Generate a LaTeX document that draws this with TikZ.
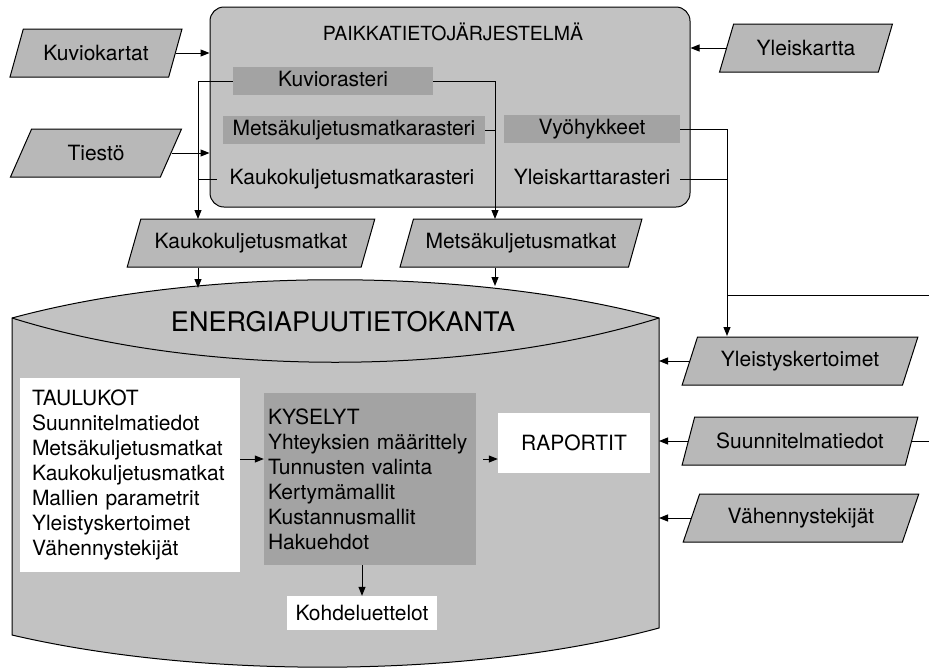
\documentclass[tikz,border=0pt]{standalone}
\usepackage{fontspec}
\setmainfont{TeX Gyre Heros}
\usetikzlibrary{positioning,arrows.meta,calc,shapes.geometric}
\definecolor{boxgray}{gray}{0.76}
\definecolor{bandgray}{gray}{0.64}
\definecolor{paragray}{gray}{0.72}

\begin{document}
\begin{tikzpicture}[x=1pt, y=-1pt,
  txt/.style={font=\fontsize{21}{25}\selectfont},
  para/.style={draw, line width=1pt, fill=paragray, trapezium, trapezium left angle=63, trapezium right angle=117, trapezium stretches=true, minimum height=48pt, inner sep=2pt, txt},
  row/.style={inner sep=4pt, text height=15pt, text depth=5pt, txt},
  band/.style={row, fill=bandgray},
  panel/.style={fill=white, align=left, inner sep=0pt, txt},
  arr/.style={-{Triangle[length=9pt, width=7pt]}, line width=1pt},
  wire/.style={line width=1pt},
]
\useasboundingbox (0,0) rectangle (929,670);
% paikkatietojarjestelma
\node[draw, line width=1pt, fill=boxgray, rounded corners=14pt, minimum width=480pt, minimum height=200pt] (sys) at (450,107) {};
\node[font=\fontsize{19.5}{22}\selectfont] (systit) at (453,32) {PAIKKATIETOJÄRJESTELMÄ};
\node[band, minimum width=200pt] (kr) at (333,81) {Kuviorasteri};
\node[band, minimum width=262pt] (mkr) at (354,130) {Metsäkuljetusmatkarasteri};
\node[row, minimum width=270pt] (kkr) at (352,179) {Kaukokuljetusmatkarasteri};
\node[band, minimum width=176pt] (vy) at (592,129) {Vyöhykkeet};
\node[row, minimum width=176pt] (ykr) at (592,179) {Yleiskarttarasteri};
% lahtotiedot
\node[para, minimum width=172pt] (kuvio) at (96,53) {Kuviokartat};
\node[para, minimum width=172pt] (tiesto) at (96,153) {Tiestö};
\node[para, minimum width=173pt] (yk) at (806,48) {Yleiskartta};
\node[para, minimum width=248pt] (kauko) at (251,243) {Kaukokuljetusmatkat};
\node[para, minimum width=242pt] (metsa) at (521,243) {Metsäkuljetusmatkat};
\node[para, minimum width=236pt] (yleistys) at (800,361) {Yleistyskertoimet};
\node[para, minimum width=236pt] (suunn) at (800,441) {Suunnitelmatiedot};
\node[para, minimum width=236pt] (vahen) at (801,518) {Vähennystekijät};
% tietokanta
\filldraw[wire, fill=boxgray] (12,318) .. controls (200,267) and (470,267) .. (659,318) -- (659,628) .. controls (470,679) and (200,679) .. (12,635) -- cycle;
\draw[wire] (12,318) .. controls (200,377) and (470,377) .. (659,318);
\node[font=\fontsize{27}{32}\selectfont] (dbtit) at (343,322) {ENERGIAPUUTIETOKANTA};
\node[panel, minimum width=220pt, minimum height=194pt, text width=196pt] (taul) at (130,475) {TAULUKOT\\Suunnitelmatiedot\\Metsäkuljetusmatkat\\Kaukokuljetusmatkat\\Mallien parametrit\\Yleistyskertoimet\\Vähennystekijät};
\node[fill=bandgray, align=left, text width=204pt, minimum height=172pt, inner xsep=4pt, txt] (kys) at (370,479) {KYSELYT\\Yhteyksien määrittely\\Tunnusten valinta\\Kertymämallit\\Kustannusmallit\\Hakuehdot};
\node[fill=white, minimum width=152pt, minimum height=60pt, txt] (rap) at (574,443) {RAPORTIT};
\node[fill=white, minimum width=150pt, minimum height=34pt, txt] (kohde) at (362,613) {Kohdeluettelot};
% liitokset
\coordinate (kaukoin) at (198,219);
\coordinate (metsain) at (495,219);
\coordinate (yin) at (727,336);
\coordinate (offa) at (929,295);
\coordinate (dbk) at (198,288);
\coordinate (dbm) at (495,286);
\coordinate (dbe) at (659,318);
\draw[arr] (kuvio.east) -- (kuvio.east -| sys.west);
\draw[arr] (tiesto.east) -- (tiesto.east -| sys.west);
\draw[arr] (yk.west) -- (yk.west -| sys.east);
\draw[arr] (kr.west) -| (kaukoin);
\draw[wire] (kkr.west) -- (kkr.west -| kaukoin);
\draw[arr] (kr.east) -| (metsain);
\draw[wire] (mkr.east) -- (mkr.east -| metsain);
\draw[arr] (vy.east) -| (yin);
\draw[wire] (ykr.east) -- (ykr.east -| yin);
\draw[wire] (yin |- offa) -- (offa);
\draw[arr] (kaukoin |- kauko.south) -- (dbk);
\draw[arr] (metsain |- metsa.south) -- (dbm);
\draw[arr] (yleistys.west) -- (yleistys.west -| dbe);
\draw[arr] (suunn.west) -- (suunn.west -| dbe);
\draw[arr] (vahen.west) -- (vahen.west -| dbe);
\draw[wire] (suunn.east) -- (suunn.east -| offa);
\draw[arr] ($(taul.east)+(0,-16)$) -- ($(taul.east -| kys.west)+(0,-16)$);
\draw[arr] ($(kys.east |- rap.west)+(7,16)$) -- ($(rap.west)+(0,16)$);
\draw[arr] (kys.south -| kohde.north) -- (kohde.north);
\end{tikzpicture}
\end{document}
